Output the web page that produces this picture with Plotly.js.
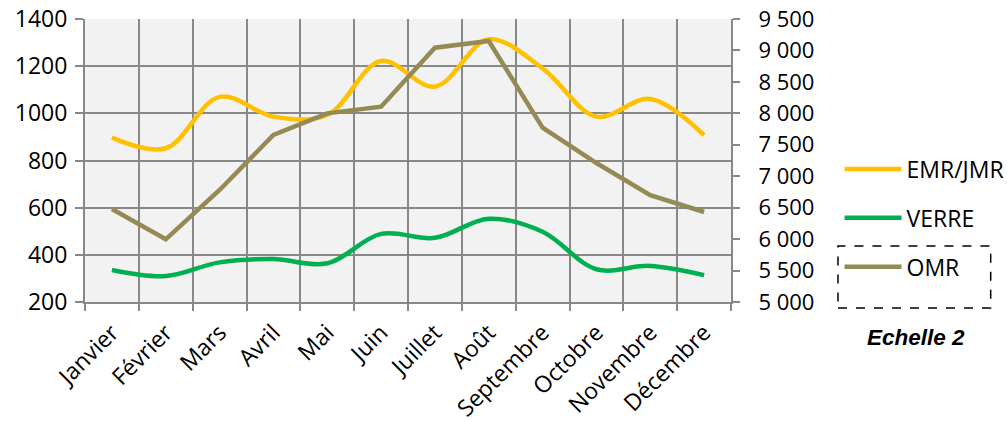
<!DOCTYPE html>
<html>
<head>
<meta charset="utf-8">
<script src="https://cdn.plot.ly/plotly-3.0.1.min.js"></script>
<style>html,body{margin:0;padding:0;background:#fff}#chart{width:1007px;height:422px}</style>
</head>
<body>
<div id="chart"></div>
<script>
const months = ["Janvier","Février","Mars","Avril","Mai","Juin","Juillet","Août","Septembre","Octobre","Novembre","Décembre"];
const emrJmr = [897, 852, 1070, 986, 993, 1222, 1113, 1314, 1191, 986, 1061, 908];
const verre = [336, 310, 368, 382, 364, 489, 472, 553, 498, 339, 353, 314];
const omr = [6479, 5997, 6781, 7655, 8000, 8105, 9044, 9150, 7772, 7210, 6700, 6431];
const seriesNames = ["EMR/JMR", "VERRE", "OMR"];
const leftTicks = [200, 400, 600, 800, 1000, 1200, 1400];
const rightTicks = [5000, 5500, 6000, 6500, 7000, 7500, 8000, 8500, 9000, 9500];

const FONT = "Open Sans";
const grid = "#888888";

const traces = [
  {x: months, y: emrJmr, name: seriesNames[0], type: "scatter", mode: "lines",
   line: {color: "#FFC000", width: 4.5, shape: "spline", smoothing: 1}, legendgroup: "a"},
  {x: months, y: verre, name: seriesNames[1], type: "scatter", mode: "lines",
   line: {color: "#00B050", width: 4.5, shape: "spline", smoothing: 1}, legendgroup: "b"},
  {x: months, y: omr, name: seriesNames[2], type: "scatter", mode: "lines", yaxis: "y2",
   line: {color: "#948A54", width: 4.5}, legendgroup: "c"}
];

const layout = {
  width: 1007, height: 422,
  margin: {l: 85, r: 276, t: 19, b: 120, autoexpand: false},
  paper_bgcolor: "#ffffff",
  plot_bgcolor: "#F2F2F2",
  font: {family: FONT, size: 23, color: "#000"},
  separators: ", ",
  showlegend: true,
  legend: {x: 1.168, y: 0.546, xanchor: "left", yanchor: "top",
           font: {family: FONT, size: 23, color: "#000"},
           tracegroupgap: 16, itemwidth: 57, bgcolor: "rgba(0,0,0,0)"},
  xaxis: {type: "category", range: [-0.5, 11.5], tickson: "boundaries", showgrid: true, gridcolor: grid, gridwidth: 2,
          showline: true, linecolor: grid, linewidth: 2, ticks: "outside", ticklen: 7, tickcolor: grid, tickwidth: 2,
          tickangle: -45, ticklabelstandoff: 6, tickfont: {family: FONT, size: 23, color: "#000"}, fixedrange: true},
  yaxis: {range: [200, 1400], tickvals: leftTicks, showgrid: true, gridcolor: grid, gridwidth: 2,
          showline: true, linecolor: grid, linewidth: 2, ticks: "outside", ticklen: 8, tickcolor: grid, tickwidth: 2,
          ticklabelstandoff: 3, zeroline: false, tickfont: {family: FONT, size: 23, color: "#000"}},
  yaxis2: {range: [5000, 9500], tickvals: rightTicks, overlaying: "y", side: "right", showgrid: false,
           showline: true, linecolor: grid, linewidth: 2, ticks: "outside", ticklen: 7, tickcolor: grid, tickwidth: 2,
           zeroline: false, tickformat: ",d", separatethousands: true, ticklabelstandoff: 14,
           tickfont: {family: FONT, size: 22, color: "#000"}},
  shapes: [
    {type: "rect", xref: "paper", yref: "paper", x0: 1.1656, x1: 1.402, y0: -0.0212, y1: 0.198,
     line: {color: "#000", width: 1.5, dash: "dash"}, fillcolor: "rgba(0,0,0,0)"}
  ],
  annotations: [
    {text: "<b><i>Echelle 2</i></b>", xref: "paper", yref: "paper", x: 1.287, y: -0.125,
     xanchor: "center", yanchor: "middle", showarrow: false,
     font: {family: "Liberation Sans", size: 22.5, color: "#000"}}
  ]
};

Plotly.newPlot("chart", traces, layout, {displayModeBar: false, staticPlot: true});
</script>
</body>
</html>
